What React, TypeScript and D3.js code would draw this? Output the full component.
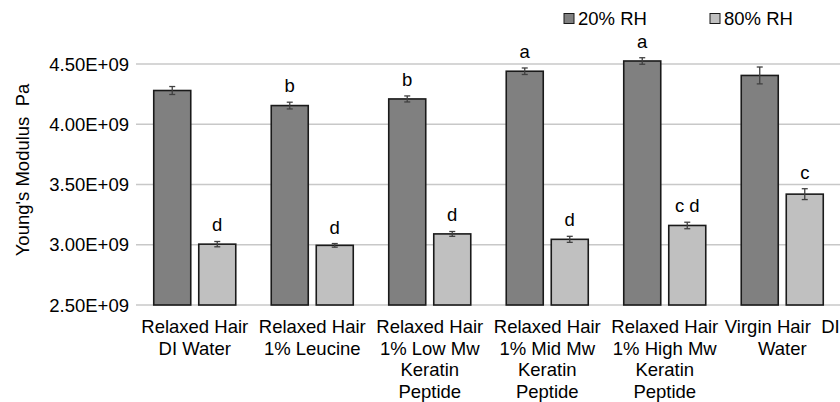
import React from "react";
import * as d3 from "d3";

const categories: string[][] = [
  ["Relaxed Hair", "DI Water"],
  ["Relaxed Hair", "1% Leucine"],
  ["Relaxed Hair", "1% Low Mw", "Keratin", "Peptide"],
  ["Relaxed Hair", "1% Mid Mw", "Keratin", "Peptide"],
  ["Relaxed Hair", "1% High Mw", "Keratin", "Peptide"],
  ["Virgin Hair  DI", "Water"],
];
const seriesNames = ["20% RH", "80% RH"];
const rh20 = [4.28e9, 4.155e9, 4.21e9, 4.44e9, 4.525e9, 4.405e9];
const rh20Err = [0.033e9, 0.028e9, 0.025e9, 0.027e9, 0.027e9, 0.07e9];
const rh20Letters = ["", "b", "b", "a", "a", ""];
const rh80 = [3.005e9, 2.995e9, 3.09e9, 3.045e9, 3.16e9, 3.42e9];
const rh80Err = [0.022e9, 0.015e9, 0.02e9, 0.025e9, 0.027e9, 0.045e9];
const rh80Letters = ["d", "d", "d", "d", "c d", "c"];
const yTicks = [2.5e9, 3.0e9, 3.5e9, 4.0e9, 4.5e9];
const yTickLabels = ["2.50E+09", "3.00E+09", "3.50E+09", "4.00E+09", "4.50E+09"];
const yTitle = "Young's Modulus  Pa";

const W = 840;
const H = 402;
const FONT = "'Liberation Sans', Arial, sans-serif";
const colors = ["#808080", "#c0c0c0"];

export default function App() {
  const x0 = d3
    .scaleBand<number>()
    .domain(d3.range(categories.length))
    .range([136, 841])
    .paddingInner(0.302)
    .paddingOuter(0.151);
  const x1 = d3
    .scaleBand<number>()
    .domain([0, 1])
    .range([0, x0.bandwidth()])
    .paddingInner(0.178)
    .paddingOuter(0);
  const y = d3.scaleLinear().domain([2.5e9, 4.5e9]).range([305, 64]);

  const series = [
    { vals: rh20, errs: rh20Err, letters: rh20Letters },
    { vals: rh80, errs: rh80Err, letters: rh80Letters },
  ];

  return (
    <svg
      width={W}
      height={H}
      style={{ position: "absolute", left: 0, top: 0, background: "#fff" }}
      fontFamily={FONT}
    >
      <rect x={0} y={0} width={W} height={H} fill="#fff" />
      {yTicks.map((t, i) => (
        <g key={i}>
          <line x1={136} x2={W} y1={y(t)} y2={y(t)} stroke="#c8c8c8" strokeWidth={1.4} />
          <text x={129} y={y(t)} dy="0.36em" textAnchor="end" fontSize={18.5} fill="#000">
            {yTickLabels[i]}
          </text>
        </g>
      ))}
      <text
        transform={`translate(29,${170}) rotate(-90)`}
        textAnchor="middle"
        fontSize={18.5}
        fill="#000"
        style={{ whiteSpace: "pre" }}
      >
        {yTitle}
      </text>
      {series.map((s, si) =>
        s.vals.map((v, ci) => {
          const bx = (x0(ci) as number) + (x1(si) as number);
          const bw = x1.bandwidth();
          const cx = bx + bw / 2;
          const top = y(v);
          const eTop = y(v + s.errs[ci]);
          const eBot = y(v - s.errs[ci]);
          return (
            <g key={`${si}-${ci}`}>
              <rect
                x={bx}
                y={top}
                width={bw}
                height={y(2.5e9) - top}
                fill={colors[si]}
                stroke="#1a1a1a"
                strokeWidth={1.6}
              />
              <line x1={cx} x2={cx} y1={eTop} y2={eBot} stroke="#404040" strokeWidth={1.3} />
              <line x1={cx - 3} x2={cx + 3} y1={eTop} y2={eTop} stroke="#404040" strokeWidth={1.3} />
              <line x1={cx - 3} x2={cx + 3} y1={eBot} y2={eBot} stroke="#404040" strokeWidth={1.3} />
              {s.letters[ci] && (
                <text x={cx} y={eTop - 10} textAnchor="middle" fontSize={18.5} fill="#000">
                  {s.letters[ci]}
                </text>
              )}
            </g>
          );
        })
      )}
      {categories.map((lines, ci) => {
        const cx = (x0(ci) as number) + x0.bandwidth() / 2;
        return (
          <text key={ci} textAnchor="middle" fontSize={18.5} fill="#000" style={{ whiteSpace: "pre" }}>
            {lines.map((l, li) => (
              <tspan key={li} x={cx} y={333 + li * 21.6}>
                {l}
              </tspan>
            ))}
          </text>
        );
      })}
      {seriesNames.map((n, i) => {
        const lx = i === 0 ? 564 : 710;
        return (
          <g key={i}>
            <rect x={lx} y={13.5} width={10} height={10} fill={colors[i]} stroke="#1a1a1a" strokeWidth={1} />
            <text x={lx + 14} y={24.5} fontSize={18.5} fill="#000">
              {n}
            </text>
          </g>
        );
      })}
    </svg>
  );
}
